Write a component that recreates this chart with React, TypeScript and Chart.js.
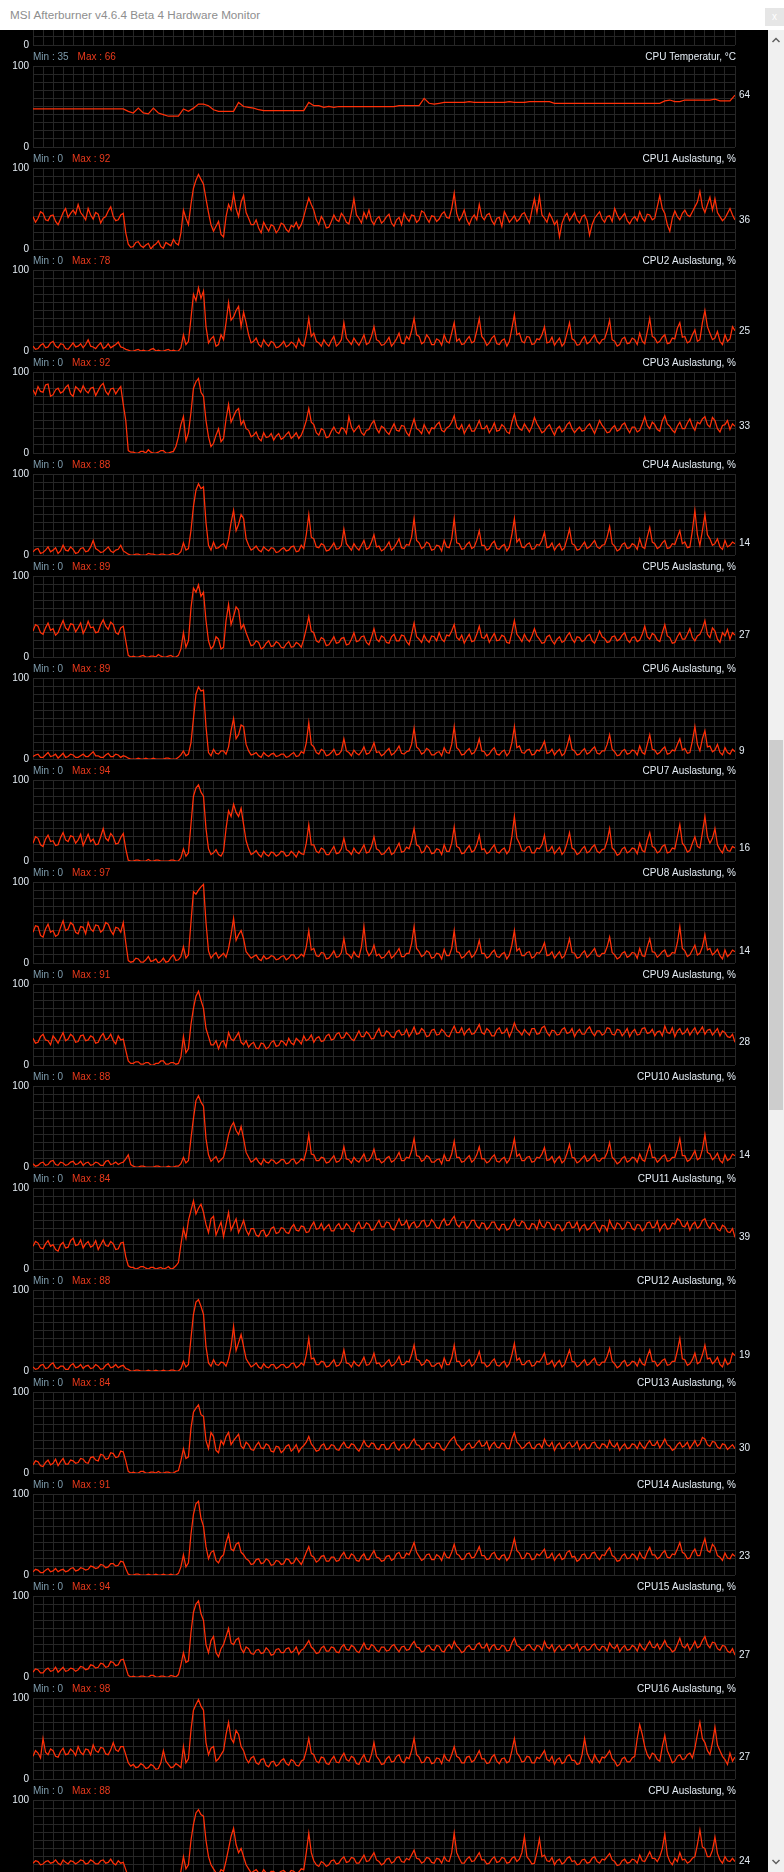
import React, { useEffect, useRef } from "react";
import { Chart, registerables } from "chart.js";
Chart.register(...registerables);

// ---------- labels ----------
const windowTitle = "MSI Afterburner v4.6.4 Beta 4 Hardware Monitor";
const panelTitles = [
  "",
  "CPU Temperatur, °C",
  "CPU1 Auslastung, %",
  "CPU2 Auslastung, %",
  "CPU3 Auslastung, %",
  "CPU4 Auslastung, %",
  "CPU5 Auslastung, %",
  "CPU6 Auslastung, %",
  "CPU7 Auslastung, %",
  "CPU8 Auslastung, %",
  "CPU9 Auslastung, %",
  "CPU10 Auslastung, %",
  "CPU11 Auslastung, %",
  "CPU12 Auslastung, %",
  "CPU13 Auslastung, %",
  "CPU14 Auslastung, %",
  "CPU15 Auslastung, %",
  "CPU16 Auslastung, %",
  "CPU Auslastung, %",
];
const minLabels = [0, 35, 0, 0, 0, 0, 0, 0, 0, 0, 0, 0, 0, 0, 0, 0, 0, 0, 0];
const maxLabels = [0, 66, 92, 78, 92, 88, 89, 89, 94, 97, 91, 88, 84, 88, 84, 91, 94, 98, 88];
const axisTickLabels = ["100", "0"];

// ---------- series ----------
const cpuTemp = [
  47, 47, 47, 47, 47, 47, 47, 47, 47, 47, 47, 47, 47, 47, 47, 47, 47, 47, 47, 44,
  42, 48, 42, 41, 48, 42, 40, 38, 38, 38, 47, 44, 48, 53, 53, 51, 46, 44, 44, 44,
  44, 55, 50, 49, 48, 46, 45, 45, 45, 45, 45, 45, 45, 45, 45, 55, 51, 51, 49, 50,
  49, 50, 50, 50, 50, 50, 50, 50, 50, 50, 50, 50, 50, 51, 51, 51, 51, 51, 60, 54,
  53, 54, 55, 55, 55, 55, 55, 56, 55, 55, 55, 55, 55, 55, 55, 56, 55, 55, 55, 56,
  56, 56, 56, 56, 54, 54, 54, 54, 54, 54, 54, 54, 54, 54, 54, 54, 54, 54, 54, 54,
  54, 54, 54, 54, 54, 54, 57, 58, 56, 56, 58, 58, 58, 58, 58, 58, 59, 57, 57, 57,
  64,
];
const cpu1 = [
  40,33,38,46,44,36,35,41,42,34,30,37,45,50,39,44,48,43,55,45,
  41,36,50,42,37,45,43,32,38,40,47,52,40,35,36,42,44,20,6,2,
  3,8,9,4,2,5,7,0,4,6,10,3,1,8,6,4,12,7,5,20,
  48,38,30,55,75,85,92,86,80,62,45,30,22,28,34,18,15,40,55,48,
  68,50,40,58,66,45,38,30,30,36,26,20,33,27,22,30,28,20,24,32,
  30,24,21,29,27,33,25,30,40,52,63,55,48,36,30,40,35,26,27,34,
  42,36,34,44,40,33,31,45,62,42,38,32,45,38,48,35,30,37,40,32,
  35,40,43,32,28,36,39,30,44,38,34,42,41,33,36,47,45,38,33,41,
  40,34,37,43,46,39,38,50,69,44,35,40,48,36,30,38,42,36,55,40,
  36,42,44,35,30,38,39,28,46,40,33,37,41,34,37,43,45,38,32,48,
  62,45,65,42,38,33,44,38,30,35,15,32,40,44,35,40,45,36,32,40,
  42,35,17,30,38,42,46,37,33,40,41,34,50,42,36,40,44,35,31,37,
  40,35,46,38,34,43,42,36,38,52,66,50,44,30,22,38,47,40,36,44,
  48,42,40,46,52,58,71,52,45,55,64,48,62,45,40,35,38,44,50,42,
  36,
];
const cpu2 = [
  6,2,3,7,9,4,5,10,12,6,4,9,8,3,2,6,10,5,6,9,
  4,8,14,6,5,3,7,10,3,5,9,4,6,8,11,5,4,2,1,0,
  0,1,2,0,1,0,0,2,3,0,1,0,0,1,2,0,1,0,0,4,
  20,8,12,40,70,62,78,65,74,30,10,15,18,6,8,20,14,35,60,38,
  42,50,55,30,48,35,20,10,12,16,8,5,14,9,6,12,10,4,5,8,
  12,5,7,11,9,4,15,8,6,20,40,18,22,12,10,6,14,9,6,13,
  18,6,9,14,35,16,12,8,16,11,7,13,20,8,10,18,30,14,12,7,
  8,12,17,6,10,15,22,10,9,18,14,25,40,20,18,9,11,20,16,8,
  8,15,13,7,20,12,10,22,35,12,15,8,9,14,18,10,12,25,40,18,
  14,7,10,16,19,9,8,13,15,6,12,28,45,20,22,12,10,18,17,8,
  9,15,14,20,30,10,11,17,7,12,16,6,10,22,35,15,13,7,8,14,
  18,9,11,16,20,12,9,14,15,25,38,14,12,6,8,15,17,9,10,16,
  14,8,22,12,9,24,40,18,16,10,12,17,20,9,10,16,15,28,35,17,
  18,10,12,20,26,12,14,35,50,30,22,14,16,24,12,8,20,12,15,30,
  25,
];
const cpu3 = [
  78,72,82,76,75,84,85,70,72,78,80,74,76,81,84,73,70,82,79,75,
  83,77,74,80,81,71,77,83,86,76,72,79,80,73,78,82,60,40,3,1,
  1,0,0,2,2,0,4,1,0,0,1,3,3,0,0,1,2,8,20,35,
  45,15,25,50,80,88,92,75,70,40,20,8,12,22,30,14,18,42,60,38,
  45,52,55,35,40,30,28,20,22,26,18,15,25,19,20,24,16,21,24,17,
  19,23,26,18,21,25,18,22,30,40,55,38,35,25,22,30,28,19,20,27,
  32,26,24,31,30,24,45,32,26,30,34,25,22,28,29,36,40,30,25,33,
  31,26,23,30,36,28,27,34,33,25,21,32,42,30,28,24,35,29,24,31,
  30,35,38,28,26,31,33,38,46,32,29,35,24,30,35,27,27,33,40,30,
  30,34,25,30,37,27,28,35,32,26,24,38,48,35,30,28,36,31,26,33,
  44,36,31,25,27,32,35,28,22,30,33,26,29,35,38,30,25,29,32,27,
  28,33,36,30,24,32,40,34,30,25,26,31,34,27,29,35,37,30,25,32,
  32,26,28,36,45,34,30,38,35,29,27,40,46,36,33,28,25,33,38,30,
  30,37,42,33,28,38,36,42,45,35,32,44,40,30,26,34,35,40,29,36,
  33,
];
const cpu4 = [
  4,7,8,2,3,6,10,4,6,9,2,5,12,6,5,10,7,2,3,8,
  9,4,5,10,18,8,6,3,4,7,10,5,3,6,7,12,5,3,1,0,
  0,1,1,0,0,0,2,1,1,0,0,1,1,0,0,1,2,0,1,4,
  15,6,8,30,60,80,88,82,84,40,12,6,16,8,9,12,14,8,20,40,
  55,30,38,50,45,20,12,6,8,11,6,4,10,7,5,9,8,3,4,7,
  9,5,6,10,11,4,5,12,8,25,50,22,20,10,9,14,12,5,6,10,
  15,7,8,12,32,14,10,6,14,9,6,12,18,7,9,16,25,10,11,5,
  7,11,16,6,9,14,20,9,8,13,12,22,45,18,15,8,10,16,14,6,
  7,12,11,5,18,10,9,20,45,15,14,7,8,13,16,8,10,18,30,12,
  12,6,8,14,17,8,7,11,13,5,10,25,45,16,20,10,9,13,15,7,
  8,13,12,18,28,9,10,15,6,11,14,6,9,20,32,14,12,6,7,12,
  16,8,10,14,18,10,8,12,13,22,35,14,11,5,7,13,15,8,9,14,
  12,7,20,10,8,22,34,16,14,8,10,15,18,8,9,14,13,22,30,14,
  16,9,10,30,55,25,12,30,50,25,20,12,14,20,10,7,18,10,12,16,
  14,
];
const cpu5 = [
  32,40,38,30,28,36,42,33,35,27,30,38,45,36,33,41,40,31,36,42,
  29,35,44,36,37,30,31,40,46,38,34,43,40,30,28,36,38,20,2,0,
  1,0,0,1,2,0,0,1,1,0,3,1,0,0,1,2,0,0,2,10,
  30,12,20,60,85,80,89,75,80,45,20,10,14,25,22,10,12,45,65,40,
  50,62,58,35,40,30,22,14,15,20,18,10,12,17,20,13,14,19,17,12,
  11,16,19,12,13,18,16,12,22,35,50,32,30,20,18,24,22,14,15,20,
  25,17,18,23,24,15,16,22,30,19,20,25,26,18,15,24,35,22,19,26,
  24,18,17,25,28,20,20,27,26,19,15,28,42,25,22,18,27,21,18,26,
  25,20,30,22,19,27,26,32,40,24,21,27,17,23,28,19,20,28,38,24,
  23,28,18,24,29,20,21,27,25,18,17,30,45,28,24,19,28,22,19,26,
  35,26,22,17,18,25,27,20,16,22,25,18,20,26,30,22,18,25,24,19,
  21,26,28,20,17,24,32,25,23,18,19,25,26,20,22,27,30,21,18,24,
  25,19,21,28,38,25,22,29,27,21,19,30,40,26,24,17,18,25,30,22,
  22,28,35,24,20,26,28,35,45,28,24,36,32,22,18,30,26,34,22,30,
  27,
];
const cpu6 = [
  3,5,6,2,2,5,8,3,4,6,1,4,7,2,3,6,5,2,2,4,
  6,3,3,6,9,4,4,2,2,5,7,3,3,6,5,2,4,3,1,0,
  0,0,1,0,0,1,0,0,1,0,0,0,0,1,1,0,0,0,2,5,
  10,4,6,20,50,80,89,84,85,40,8,4,12,7,6,10,10,6,15,35,
  50,25,30,42,40,18,10,5,6,8,4,2,8,5,3,6,7,3,4,6,
  6,2,3,6,8,3,4,9,7,20,45,18,15,8,6,12,10,4,5,8,
  12,5,6,10,25,10,8,4,11,7,5,9,15,6,7,12,20,8,9,4,
  6,10,13,5,7,11,16,7,6,9,10,18,38,15,12,6,8,13,11,5,
  5,8,9,4,14,8,7,18,40,14,11,5,6,10,13,6,8,14,25,10,
  9,4,6,11,14,6,5,9,11,4,8,20,40,14,16,8,7,11,12,5,
  6,11,10,15,22,7,8,12,5,9,12,4,7,16,28,12,10,5,6,10,
  13,6,8,12,15,7,6,10,10,18,30,12,9,4,5,10,12,6,7,11,
  10,5,16,8,6,18,30,12,11,6,8,12,15,6,7,11,10,18,25,11,
  13,7,8,22,40,18,10,25,35,15,16,9,11,18,8,5,14,8,6,12,
  9,
];
const cpu7 = [
  22,30,28,20,18,27,32,24,25,19,20,29,35,26,24,31,30,22,26,33,
  19,26,33,24,27,20,21,30,40,28,25,34,30,21,22,29,34,15,1,0,
  0,1,1,0,0,0,2,0,0,1,1,0,0,0,0,1,1,0,0,4,
  15,6,10,45,80,90,94,85,80,40,15,8,10,14,8,6,12,40,62,55,
  70,60,55,65,45,25,15,8,10,13,8,5,12,8,6,11,10,6,8,12,
  11,6,7,12,9,5,12,9,8,22,45,20,20,12,10,16,14,8,8,13,
  18,9,10,15,28,14,12,8,16,11,9,14,20,10,11,18,30,15,13,8,
  9,13,17,8,10,16,22,11,12,17,15,25,40,20,18,10,12,19,16,9,
  10,15,14,8,20,12,12,22,42,18,16,9,10,15,19,11,13,20,32,14,
  15,9,11,16,20,11,10,14,16,9,13,30,55,28,22,13,12,17,18,10,
  10,16,15,20,32,12,13,18,9,13,17,8,12,22,35,16,14,8,10,15,
  18,10,12,17,20,12,10,14,15,25,40,16,13,7,9,15,17,10,12,16,
  15,9,22,13,11,25,35,18,16,10,12,18,20,10,11,16,15,30,45,22,
  18,11,13,22,30,18,16,35,55,30,22,28,40,20,14,10,20,13,12,18,
  16,
];
const cpu8 = [
  38,46,45,34,32,42,48,38,40,33,35,44,52,40,42,50,47,38,36,45,
  44,36,50,42,39,47,46,38,41,50,48,40,35,44,43,38,50,25,3,1,
  2,6,5,1,1,4,8,2,3,5,0,2,6,1,2,7,10,3,4,8,
  20,6,10,50,88,85,90,94,97,50,15,6,10,13,6,9,12,7,18,35,
  55,28,35,40,30,14,10,6,8,10,5,3,9,5,6,9,8,4,5,8,
  9,4,6,10,10,5,7,11,8,20,40,16,18,9,8,13,12,5,6,10,
  15,7,8,13,30,12,10,6,14,9,7,20,45,16,9,13,22,9,11,6,
  7,11,15,6,9,13,18,8,8,12,12,24,45,18,14,8,10,15,13,6,
  7,12,11,5,17,9,9,18,40,14,13,6,8,12,15,7,10,16,28,12,
  12,6,8,13,16,8,7,11,13,5,10,22,40,15,18,9,9,13,14,6,
  8,13,12,17,25,9,10,14,6,10,14,6,9,18,30,13,12,6,7,12,
  15,7,10,14,18,9,8,12,12,20,32,13,10,5,7,12,14,7,9,13,
  12,6,18,9,8,20,30,14,13,7,10,14,16,8,9,13,12,25,45,18,
  15,8,10,16,22,10,12,20,35,16,18,10,13,17,9,5,16,8,11,16,
  14,
];
const cpu9 = [
  33,27,28,35,38,31,30,25,36,32,27,34,40,30,32,38,35,28,29,36,
  37,30,31,36,34,27,28,35,39,31,33,38,30,26,36,31,32,18,5,2,
  2,4,4,1,1,3,3,0,0,2,2,5,5,1,1,3,3,1,2,10,
  35,15,20,50,70,85,91,80,70,45,35,25,25,30,20,28,30,22,40,32,
  30,35,40,28,25,30,22,26,28,21,20,27,26,20,22,28,30,23,24,30,
  28,24,33,27,25,33,30,26,36,30,32,37,28,33,35,29,30,36,38,31,
  32,38,40,33,34,40,37,32,30,36,42,35,35,41,38,32,33,40,45,36,
  36,42,40,35,34,41,43,37,38,44,35,40,47,38,39,45,42,35,36,43,
  44,37,38,44,41,36,35,42,48,40,40,46,37,42,45,38,39,44,50,40,
  38,45,42,36,36,43,46,39,40,45,35,42,52,44,41,37,44,40,37,45,
  45,38,39,46,48,40,36,43,42,37,38,44,46,39,40,45,35,41,44,38,
  38,44,47,40,36,42,42,37,39,46,45,38,37,44,43,36,40,45,35,41,
  44,37,38,45,46,39,40,44,36,41,42,36,48,40,39,46,35,42,45,38,
  40,45,37,42,46,38,42,47,38,43,44,37,41,45,36,42,40,35,34,38,
  28,
];
const cpu10 = [
  4,1,2,5,6,2,3,7,8,3,2,6,5,2,3,6,7,3,4,7,
  2,5,6,2,3,6,5,2,2,7,8,3,4,6,3,5,6,10,15,3,
  1,0,0,1,1,0,0,0,0,1,1,0,0,0,1,0,0,1,1,4,
  12,5,8,35,60,82,88,80,75,35,15,7,10,13,6,9,12,25,40,50,
  55,45,40,50,35,18,12,6,8,11,6,3,10,6,5,9,8,4,6,9,
  9,4,5,9,10,4,6,10,8,20,40,16,15,8,8,12,11,5,6,10,
  14,6,7,11,25,10,9,5,12,8,6,11,16,7,8,13,22,9,10,5,
  7,11,13,6,8,12,18,8,8,12,11,20,35,14,13,7,9,14,12,6,
  6,9,10,4,15,8,8,16,32,12,12,6,7,11,14,6,9,15,25,10,
  10,5,7,12,15,7,6,10,12,5,9,20,35,13,16,8,8,12,13,6,
  7,12,11,16,24,8,9,13,5,10,13,5,8,17,28,12,11,5,7,11,
  14,7,9,13,16,8,7,11,11,18,30,12,9,4,6,11,13,6,8,12,
  11,6,16,9,7,18,28,12,12,6,9,13,15,7,8,12,12,22,35,14,
  14,7,9,14,20,9,11,22,40,18,16,9,12,17,8,5,15,8,10,16,
  14,
];
const cpu11 = [
  28,34,32,26,25,31,35,28,30,24,22,30,33,26,27,35,38,29,30,36,
  26,31,34,27,29,35,24,30,36,29,28,34,31,24,25,32,33,15,4,2,
  2,0,1,3,3,1,0,2,2,0,1,2,0,1,3,0,1,4,8,30,
  50,38,60,72,84,68,75,80,70,55,45,62,65,42,50,58,40,55,70,48,
  55,62,45,52,60,48,42,50,50,42,40,47,48,40,43,50,52,44,45,51,
  50,45,44,51,55,48,47,53,52,45,46,53,58,49,50,56,48,52,55,47,
  47,53,56,49,50,56,53,47,46,54,58,50,51,57,55,48,49,55,60,52,
  52,58,57,50,48,55,62,54,55,60,50,56,58,51,53,59,60,52,54,61,
  57,51,50,58,62,54,55,61,65,55,52,58,58,50,54,60,60,53,50,57,
  56,49,52,58,58,51,48,55,55,48,50,57,62,54,53,59,57,50,49,56,
  55,49,60,53,51,58,57,50,48,55,54,47,50,57,58,51,52,58,47,53,
  55,48,50,56,58,51,46,54,53,47,60,53,49,57,55,49,51,58,57,50,
  48,55,54,47,50,57,58,51,52,59,47,53,56,49,50,57,55,62,60,53,
  52,58,48,55,58,50,53,60,62,54,50,57,56,49,47,54,52,46,45,50,
  39,
];
const cpu12 = [
  5,2,3,7,8,3,4,8,10,4,3,6,6,2,2,7,9,4,5,8,
  3,6,7,3,4,8,6,2,3,7,9,4,5,8,4,6,7,3,2,0,
  0,1,1,0,0,0,1,0,0,1,0,0,1,0,0,1,1,0,0,3,
  12,5,8,40,70,85,88,80,70,30,10,6,14,8,7,11,10,6,15,30,
  55,25,35,45,30,15,10,5,7,10,5,3,9,5,4,8,8,3,5,8,
  8,4,5,9,10,4,6,10,7,20,40,15,16,8,8,12,11,5,6,10,
  14,6,7,12,26,10,9,5,12,8,6,11,17,7,8,13,22,9,10,5,
  7,11,14,6,8,12,18,8,8,12,11,20,32,14,13,7,9,14,12,6,
  6,9,10,4,16,8,8,16,32,12,12,6,7,11,14,6,9,15,24,10,
  10,5,7,12,15,7,6,10,12,5,9,20,34,13,16,8,8,12,13,6,
  7,12,11,16,22,8,9,13,5,10,13,5,8,17,26,12,11,5,7,11,
  14,7,9,13,16,8,7,11,11,18,28,12,9,4,6,11,13,6,8,12,
  11,6,15,9,7,18,26,12,12,6,9,13,15,7,8,12,12,25,40,15,
  14,7,9,14,22,9,11,20,32,15,16,9,12,17,8,5,15,8,10,22,
  19,
];
const cpu13 = [
  10,15,14,9,8,13,16,10,12,17,9,14,18,11,11,16,15,12,13,18,
  17,13,12,19,20,16,15,23,22,17,18,25,24,19,20,27,26,15,2,0,
  1,0,0,2,2,0,0,1,1,0,2,0,0,1,1,0,0,2,3,15,
  30,18,20,55,75,80,84,72,70,40,30,50,45,28,25,40,35,45,50,35,
  40,44,48,33,30,38,35,29,28,34,38,31,30,36,34,27,26,33,32,25,
  28,33,35,27,30,35,26,31,34,38,45,36,32,27,28,34,36,29,30,35,
  34,29,28,34,38,32,31,36,35,30,27,33,40,34,32,37,36,30,29,35,
  35,29,30,36,38,31,28,34,36,30,32,38,42,35,34,29,30,36,37,32,
  31,37,36,30,28,33,38,42,45,36,33,28,30,35,37,31,32,37,40,33,
  34,39,29,35,38,32,31,37,36,30,30,42,50,38,35,30,32,36,38,31,
  30,35,36,31,42,35,33,38,28,34,37,30,31,36,38,32,34,39,29,34,
  36,30,31,37,38,32,30,36,35,31,40,34,32,37,28,33,36,30,31,36,
  35,30,38,33,30,36,40,34,34,39,31,36,42,35,33,28,30,35,38,32,
  34,38,30,35,40,33,36,44,42,35,33,39,38,32,30,36,35,29,32,35,
  30,
];
const cpu14 = [
  4,7,6,3,3,6,8,4,5,8,4,6,7,4,5,8,9,5,6,9,
  8,6,7,11,10,8,9,13,12,9,10,14,14,11,12,17,16,8,1,0,
  0,1,1,0,0,0,1,0,0,1,0,0,1,0,0,1,0,0,2,10,
  25,10,15,50,75,88,91,70,60,35,20,28,30,18,15,22,25,40,50,32,
  30,38,40,28,25,20,18,13,14,19,20,14,15,20,18,12,13,18,17,13,
  14,20,19,14,15,21,17,13,20,28,35,24,22,16,18,23,24,17,17,22,
  22,17,18,24,28,21,20,26,24,18,17,23,26,19,19,25,30,22,21,17,
  18,23,24,18,20,26,28,21,21,27,25,32,40,28,23,18,20,25,26,19,
  19,25,23,18,28,22,21,28,38,26,24,19,20,26,27,21,22,28,35,24,
  24,19,20,26,28,21,19,24,25,18,22,32,45,30,27,20,21,27,26,19,
  20,26,24,28,32,21,22,27,18,23,26,19,21,28,30,22,23,17,19,25,
  26,20,21,27,28,22,19,25,24,30,34,24,22,17,18,24,26,20,21,26,
  24,19,28,22,20,28,34,25,25,20,22,27,30,22,21,26,25,32,40,28,
  26,20,21,28,32,24,24,36,45,30,28,38,34,24,22,18,27,21,20,26,
  23,
];
const cpu15 = [
  6,10,9,5,5,9,11,7,8,12,6,9,12,7,8,11,10,7,9,13,
  12,9,10,15,14,11,12,17,16,12,13,19,18,14,15,21,22,12,2,0,
  1,0,0,1,1,0,0,2,2,0,0,1,1,0,0,2,1,0,3,15,
  30,18,20,55,80,90,94,78,70,40,30,45,50,30,25,35,40,50,60,42,
  40,46,48,35,30,37,35,29,28,33,34,29,30,36,33,27,28,34,35,30,
  30,35,36,30,32,37,28,33,35,40,45,37,34,29,30,36,38,32,32,37,
  36,31,30,37,40,34,33,39,37,32,30,36,42,35,34,40,38,33,31,37,
  37,32,33,38,40,35,31,37,38,33,34,40,44,37,36,31,32,38,39,34,
  33,39,38,32,31,37,40,35,44,38,35,30,32,37,39,34,34,40,42,36,
  36,41,32,38,40,34,34,39,38,32,33,42,48,39,37,33,34,39,40,35,
  33,39,38,33,44,37,35,40,31,36,39,33,34,39,40,35,36,41,32,37,
  38,33,34,39,41,35,33,38,37,32,42,37,35,40,31,36,39,33,34,39,
  37,32,41,36,33,39,44,37,36,41,34,39,45,38,36,31,33,40,48,38,
  36,41,33,38,44,36,38,45,50,40,36,43,42,35,33,39,38,32,30,35,
  27,
];
const cpu16 = [
  28,35,32,26,50,33,30,37,35,28,27,34,38,30,31,37,34,29,40,33,
  30,37,36,30,42,35,33,39,38,31,30,36,45,36,34,40,40,30,20,16,
  18,14,15,19,17,13,14,18,16,12,13,20,35,22,18,14,15,19,17,14,
  40,20,25,60,85,92,98,90,85,45,30,38,40,22,25,30,35,55,70,50,
  45,60,55,40,35,25,20,26,28,20,18,24,25,17,15,21,22,16,18,23,
  25,19,17,24,22,17,16,22,24,35,50,32,30,22,20,27,26,19,18,24,
  28,21,20,27,32,24,22,28,26,19,18,25,30,22,21,30,45,28,24,18,
  19,25,28,21,22,28,30,22,20,27,25,35,50,30,27,20,21,27,26,19,
  20,26,25,19,30,24,22,30,40,28,26,20,20,27,28,21,23,29,35,25,
  25,19,20,27,30,22,19,25,26,20,22,35,50,32,28,21,22,28,27,20,
  20,27,25,30,35,24,22,28,18,24,26,19,21,28,30,23,23,18,19,30,
  50,32,25,20,30,24,20,27,26,30,35,25,22,16,18,25,27,21,21,26,
  28,50,67,55,40,30,25,32,30,24,22,40,54,35,28,20,22,28,30,24,
  25,30,32,26,38,55,70,50,45,35,30,45,64,42,35,28,24,18,32,22,
  27,
];
const cpuTotal = [
  22,25,24,20,21,24,25,22,23,26,22,20,26,23,21,25,24,21,23,26,
  25,21,22,26,24,21,21,25,26,22,23,27,22,20,25,22,23,14,5,3,
  3,4,2,3,4,2,3,5,2,3,4,2,6,4,3,2,2,4,4,12,
  30,15,20,50,70,84,88,82,80,50,30,20,15,10,8,14,12,25,40,55,
  65,45,35,40,30,20,15,10,12,14,10,8,14,10,9,12,12,8,10,12,
  13,10,9,13,12,9,11,15,14,35,59,35,25,20,18,24,22,18,20,25,
  26,21,22,27,30,23,24,29,28,22,22,27,32,24,25,30,35,26,24,20,
  22,27,28,22,24,29,30,24,23,28,26,32,38,28,27,22,24,29,28,23,
  22,28,27,22,30,25,24,35,59,35,28,22,22,27,30,24,25,30,35,26,
  26,21,22,27,30,23,24,29,28,22,23,28,30,24,27,35,55,30,26,21,
  22,35,52,30,32,25,24,29,20,25,27,21,23,28,30,24,25,20,21,26,
  27,22,23,28,30,24,22,27,26,30,34,26,24,19,20,25,27,22,23,27,
  26,22,32,25,24,30,36,28,28,24,30,40,58,32,24,20,28,24,35,26,
  27,22,24,28,30,45,63,42,40,30,30,38,54,34,26,22,30,25,24,28,
  24,
];

const panelSeries: (number[] | null)[] = [
  null, cpuTemp, cpu1, cpu2, cpu3, cpu4, cpu5, cpu6, cpu7, cpu8,
  cpu9, cpu10, cpu11, cpu12, cpu13, cpu14, cpu15, cpu16, cpuTotal,
];

// ---------- layout / style ----------
const PAGE_W = 784;
const PAGE_H = 1872;
const TITLE_H = 30;
const SCROLL_W = 16;
const PLOT_LEFT = 33;
const PLOT_RIGHT = 735;
const GRID_H = 81;
const PITCH = 102;
const FIRST_GRID_TOP = 66;
const HEAD = 21;
const CANVAS_H = 112;
const X_MAX = 70;

const LINE_COLOR = "#ff3008";
const GRID_COLOR = "#262626";
const TEXT_COLOR = "#e4ecf4";
const MIN_COLOR = "#7e9cad";
const MAX_COLOR = "#ea3a1c";
const FONT = "10px 'Liberation Sans', Arial, sans-serif";

function makeLabelPlugin(idx: number) {
  return {
    id: "panelLabels",
    afterDraw(chart: any) {
      const { ctx, chartArea: a, scales } = chart;
      const y = scales.y;
      ctx.save();
      ctx.font = FONT;
      ctx.textBaseline = "middle";
      ctx.fillStyle = TEXT_COLOR;
      ctx.textAlign = "right";
      ctx.fillText(axisTickLabels[0], a.left - 4, y.getPixelForValue(100));
      ctx.fillText(axisTickLabels[1], a.left - 4, y.getPixelForValue(0));
      const data = panelSeries[idx];
      if (data) {
        const hy = a.top - 9;
        ctx.textAlign = "left";
        const minText = "Min : " + minLabels[idx];
        ctx.fillStyle = MIN_COLOR;
        ctx.fillText(minText, a.left, hy);
        const w = ctx.measureText(minText).width;
        ctx.fillStyle = MAX_COLOR;
        ctx.fillText("Max : " + maxLabels[idx], a.left + w + 9, hy);
        ctx.textAlign = "right";
        ctx.fillStyle = TEXT_COLOR;
        ctx.fillText(panelTitles[idx], a.right + 1, hy);
        const last = data[data.length - 1];
        ctx.textAlign = "left";
        ctx.fillText(String(last), a.right + 4, y.getPixelForValue(last));
      }
      ctx.restore();
    },
  };
}

function Panel({ idx }: { idx: number }) {
  const ref = useRef<HTMLCanvasElement | null>(null);
  useEffect(() => {
    const data = panelSeries[idx];
    const pts = data
      ? data.map((v, i) => ({ x: (i * X_MAX) / (data.length - 1), y: v }))
      : [];
    const chart = new Chart(ref.current as HTMLCanvasElement, {
      type: "line",
      data: {
        datasets: [
          {
            data: pts,
            borderColor: LINE_COLOR,
            borderWidth: 1.25,
            pointRadius: 0,
            tension: 0,
            fill: false,
          },
        ],
      },
      options: {
        animation: false,
        responsive: false,
        devicePixelRatio: 1,
        events: [],
        layout: {
          padding: {
            left: PLOT_LEFT,
            right: PAGE_W - SCROLL_W - PLOT_RIGHT,
            top: HEAD,
            bottom: CANVAS_H - HEAD - GRID_H,
          },
        },
        plugins: { legend: { display: false }, tooltip: { enabled: false } },
        scales: {
          x: {
            type: "linear",
            min: 0,
            max: X_MAX,
            ticks: { display: false, stepSize: 1 },
            grid: { color: GRID_COLOR, drawTicks: false, lineWidth: 1 },
            border: { display: false },
          },
          y: {
            type: "linear",
            min: 0,
            max: 100,
            ticks: { display: false, stepSize: 10 },
            grid: { color: GRID_COLOR, drawTicks: false, lineWidth: 1 },
            border: { display: false },
          },
        },
      } as any,
      plugins: [makeLabelPlugin(idx)],
    });
    return () => chart.destroy();
  }, [idx]);
  const gridTop = FIRST_GRID_TOP + (idx - 1) * PITCH;
  return (
    <canvas
      ref={ref}
      width={PAGE_W - SCROLL_W}
      height={CANVAS_H}
      style={{
        position: "absolute",
        left: 0,
        top: gridTop - HEAD - TITLE_H,
        width: PAGE_W - SCROLL_W,
        height: CANVAS_H,
      }}
    />
  );
}

export default function App() {
  return (
    <div
      style={{
        position: "absolute",
        left: 0,
        top: 0,
        width: PAGE_W,
        height: PAGE_H,
        background: "#ffffff",
        overflow: "hidden",
      }}
    >
      <div
        style={{
          position: "absolute",
          left: 0,
          top: 0,
          width: PAGE_W,
          height: TITLE_H,
          background: "#ffffff",
        }}
      >
        <div
          style={{
            position: "absolute",
            left: 10,
            top: 0,
            height: TITLE_H,
            fontFamily: "'Liberation Sans', Arial, sans-serif",
            fontSize: "11.7px",
            lineHeight: TITLE_H + "px",
            color: "#8e8e8e",
            whiteSpace: "nowrap",
          }}
        >
          {windowTitle}
        </div>
        <div
          style={{
            position: "absolute",
            left: 765,
            top: 8,
            width: 19,
            height: 18,
            background: "#e6e6e6",
            color: "#ffffff",
            fontFamily: "'Liberation Sans', Arial, sans-serif",
            fontSize: "10px",
            textAlign: "center",
            lineHeight: "18px",
          }}
        >
          x
        </div>
      </div>
      <div
        style={{
          position: "absolute",
          left: 0,
          top: TITLE_H,
          width: PAGE_W - SCROLL_W,
          height: PAGE_H - TITLE_H,
          background: "#000000",
          overflow: "hidden",
        }}
      >
        {panelSeries.map((_, i) => (
          <Panel key={i} idx={i} />
        ))}
      </div>
      <div
        style={{
          position: "absolute",
          left: PAGE_W - SCROLL_W,
          top: TITLE_H,
          width: SCROLL_W,
          height: PAGE_H - TITLE_H,
          background: "#f0f0f0",
        }}
      >
        <svg width={SCROLL_W} height={16} style={{ position: "absolute", left: 0, top: 2 }}>
          <polyline points="4.5,10 8,6.5 11.5,10" fill="none" stroke="#606060" strokeWidth="1.5" />
        </svg>
        <div
          style={{
            position: "absolute",
            left: 1,
            top: 740 - TITLE_H,
            width: SCROLL_W - 2,
            height: 370,
            background: "#cdcdcd",
          }}
        />
        <svg width={SCROLL_W} height={16} style={{ position: "absolute", left: 0, top: PAGE_H - TITLE_H - 18 }}>
          <polyline points="4.5,6 8,9.5 11.5,6" fill="none" stroke="#606060" strokeWidth="1.5" />
        </svg>
      </div>
    </div>
  );
}
